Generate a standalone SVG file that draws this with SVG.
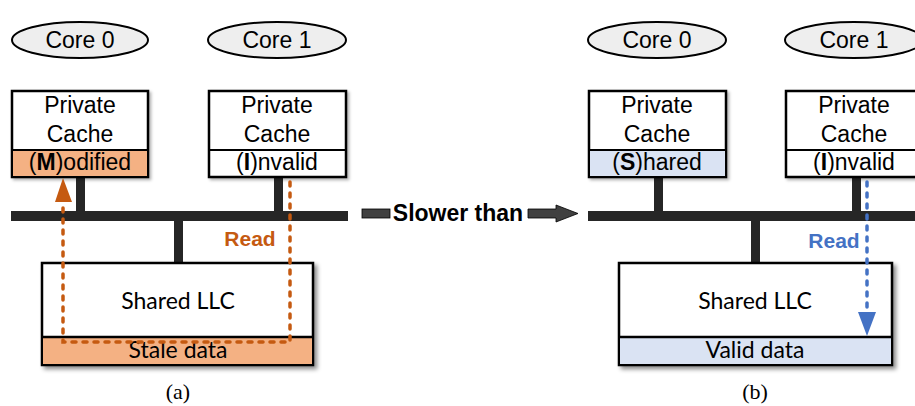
<svg xmlns="http://www.w3.org/2000/svg" width="915" height="406" viewBox="0 0 915 406">
  <defs>
    <filter id="shadow" x="-10%" y="-10%" width="125%" height="130%">
      <feDropShadow dx="3" dy="3" stdDeviation="2" flood-color="#000" flood-opacity="0.45"/>
    </filter>
    <filter id="shadowSmall" x="-10%" y="-10%" width="125%" height="130%">
      <feDropShadow dx="2" dy="2" stdDeviation="1.5" flood-color="#000" flood-opacity="0.3"/>
    </filter>
  </defs>
  <style>
    .core { fill: #EEEEEE; stroke: #000; stroke-width: 2; }
    .box { fill: #FFFFFF; stroke: #000; stroke-width: 2.5; }
    .sans { font-family: "Liberation Sans", Arial, sans-serif; font-size: 23px; fill: #000; text-anchor: middle; }
    .llc { font-family: Lato, "Open Sans", sans-serif; font-size: 23px; fill: #000; text-anchor: middle; }
    .cap { font-family: "Liberation Serif", "Times New Roman", serif; font-size: 22px; fill: #000; text-anchor: middle; }
    .bus { fill: #262626; }
    .orange { fill: #F4B183; }
    .blue { fill: #DAE3F3; }
    .dashO { fill: none; stroke: #C55A11; stroke-width: 3.5; stroke-dasharray: 4 7; stroke-linecap: round; }
    .dashB { fill: none; stroke: #4472C4; stroke-width: 3.5; stroke-dasharray: 4 7; stroke-linecap: round; }
    .lbl { font-family: "Liberation Sans", Arial, sans-serif; font-size: 21px; font-weight: bold; text-anchor: middle; }
  </style>

  <!-- buses and stubs -->
  <g id="buses">
    <rect class="bus" x="11" y="211" width="337" height="10"/>
    <rect class="bus" x="76" y="177" width="9" height="34"/>
    <rect class="bus" x="274" y="177" width="9" height="34"/>
    <rect class="bus" x="174" y="221" width="9" height="42"/>

    <rect class="bus" x="588" y="211" width="327" height="10"/>
    <rect class="bus" x="654" y="177" width="9" height="34"/>
    <rect class="bus" x="852" y="177" width="9" height="34"/>
    <rect class="bus" x="751" y="221" width="9" height="42"/>
  </g>

  <!-- panel (a) -->
  <g id="a-core0">
    <ellipse class="core" cx="80" cy="40" rx="68" ry="18"/>
    <text class="sans" x="80" y="48">Core 0</text>
  </g>
  <g id="a-core1">
    <ellipse class="core" cx="277" cy="40" rx="69" ry="18"/>
    <text class="sans" x="277" y="48">Core 1</text>
  </g>
  <g id="a-cache0">
    <rect class="box" x="12" y="91" width="136" height="86" filter="url(#shadowSmall)"/>
    <rect class="orange" x="13" y="150" width="134" height="26"/>
    <line x1="12" y1="150" x2="148" y2="150" stroke="#000" stroke-width="2"/>
    <text class="sans" x="80" y="113">Private</text>
    <text class="sans" x="80" y="142">Cache</text>
    <text class="sans" x="80" y="170">(<tspan font-weight="bold">M</tspan>)odified</text>
  </g>
  <g id="a-cache1">
    <rect class="box" x="209" y="91" width="137" height="86" filter="url(#shadowSmall)"/>
    <line x1="209" y1="150" x2="346" y2="150" stroke="#000" stroke-width="2"/>
    <text class="sans" x="277" y="113">Private</text>
    <text class="sans" x="277" y="142">Cache</text>
    <text class="sans" x="277" y="170">(<tspan font-weight="bold">I</tspan>)nvalid</text>
  </g>
  <g id="a-llc">
    <rect class="box" x="42" y="263" width="271" height="102" filter="url(#shadow)"/>
    <rect class="orange" x="43" y="337" width="269" height="27"/>
    <line x1="42" y1="337" x2="313" y2="337" stroke="#000" stroke-width="2.5"/>
    <text class="llc" x="178" y="309">Shared LLC</text>
    <text class="llc" x="178" y="358" font-size="20">Stale data</text>
  </g>
  <text class="cap" x="178" y="399">(a)</text>

  <!-- panel (b) -->
  <g id="b-core0">
    <ellipse class="core" cx="657" cy="40" rx="69" ry="18"/>
    <text class="sans" x="657" y="48">Core 0</text>
  </g>
  <g id="b-core1">
    <ellipse class="core" cx="854" cy="40" rx="69" ry="18"/>
    <text class="sans" x="854" y="48">Core 1</text>
  </g>
  <g id="b-cache0">
    <rect class="box" x="589" y="91" width="137" height="86" filter="url(#shadowSmall)"/>
    <rect class="blue" x="590" y="150" width="135" height="26"/>
    <line x1="589" y1="150" x2="726" y2="150" stroke="#000" stroke-width="2"/>
    <text class="sans" x="657" y="113">Private</text>
    <text class="sans" x="657" y="142">Cache</text>
    <text class="sans" x="657" y="170">(<tspan font-weight="bold">S</tspan>)hared</text>
  </g>
  <g id="b-cache1">
    <rect class="box" x="786" y="91" width="137" height="86" filter="url(#shadowSmall)"/>
    <line x1="786" y1="150" x2="923" y2="150" stroke="#000" stroke-width="2"/>
    <text class="sans" x="854" y="113">Private</text>
    <text class="sans" x="854" y="142">Cache</text>
    <text class="sans" x="854" y="170">(<tspan font-weight="bold">I</tspan>)nvalid</text>
  </g>
  <g id="b-llc">
    <rect class="box" x="619" y="263" width="273" height="102" filter="url(#shadow)"/>
    <rect class="blue" x="620" y="337" width="271" height="27"/>
    <line x1="619" y1="337" x2="892" y2="337" stroke="#000" stroke-width="2.5"/>
    <text class="llc" x="755" y="309">Shared LLC</text>
    <text class="llc" x="755" y="358" font-size="20">Valid data</text>
  </g>
  <text class="cap" x="755" y="399">(b)</text>

  <!-- connectors -->
  <g id="connectors">
    <path class="dashO" d="M290 182 V342 H63 V205"/>
    <polygon points="63,178 55,202 72,202" fill="#C55A11"/>
    <text class="lbl" x="250" y="246" fill="#C55A11">Read</text>

    <path class="dashB" d="M867 182 V313"/>
    <polygon points="867,336 858,312 876,312" fill="#4472C4"/>
    <text class="lbl" x="834" y="248" fill="#4472C4">Read</text>

    <g id="slower">
      <rect x="362" y="209" width="28" height="9" fill="#404040" stroke="#000" stroke-width="0.8"/>
      <text x="458" y="221" font-family="'Liberation Sans', Arial, sans-serif" font-size="23" font-weight="bold" text-anchor="middle" fill="#000">Slower than</text>
      <polygon points="528,209 556,209 556,205 578,213.5 556,222 556,218 528,218" fill="#404040" stroke="#000" stroke-width="0.8"/>
    </g>
  </g>
</svg>
